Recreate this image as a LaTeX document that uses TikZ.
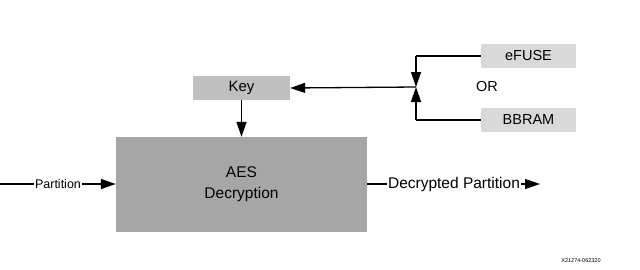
\documentclass[tikz,border=0pt]{standalone}
\usepackage{fontspec}
\setmainfont{Liberation Sans}
\usetikzlibrary{arrows.meta}
\definecolor{aesgray}{HTML}{A6A6A6}
\definecolor{keygray}{HTML}{BFBFBF}
\definecolor{srcgray}{HTML}{D9D9D9}
\begin{document}
\begin{tikzpicture}[x=1pt,y=-1pt,
  box/.style={draw=none,inner sep=0pt,anchor=center},
  wire/.style={line width=1.3pt,draw=black},
  arr/.style={wire,-{Triangle[length=15pt,width=10pt]}},
  lbl/.style={inner sep=1pt,font=\fontsize{12.5}{14}\selectfont}]
\useasboundingbox (0,0) rectangle (640,269);

% blocks
\node[box,fill=aesgray,minimum width=251pt,minimum height=95pt,align=center,
      font=\fontsize{15.5}{21}\selectfont] (aes) at (241.5,184.5) {AES\\Decryption};
\node[box,fill=keygray,minimum width=97pt,minimum height=24pt,
      font=\fontsize{15}{16}\selectfont] (key) at (241.5,88) {Key};
\node[box,fill=srcgray,minimum width=95pt,minimum height=24pt,
      font=\fontsize{14.5}{16}\selectfont] (efuse) at (528.5,56) {eFUSE};
\node[box,fill=srcgray,minimum width=95pt,minimum height=24pt,
      font=\fontsize{14.5}{16}\selectfont] (bbram) at (528.5,120) {BBRAM};
\node[font=\fontsize{14.5}{16}\selectfont] (or) at (487,87) {OR};

% key source selection
\coordinate (j) at (416,87);
\coordinate (jt) at (416,56);
\coordinate (jb) at (416,120);
\draw[wire] (efuse.west) -- (jt);
\draw[arr] (jt) -- (j);
\draw[wire] (bbram.west) -- (jb);
\draw[arr] (jb) -- (j);
\draw[arr] (j) -- (key.east);
\draw[arr] (key.south) -- (aes.north);

% data path
\coordinate (in) at (0,184);
\node[lbl] (part) at (58,184) {Partition};
\draw[wire] (in) -- (part.west);
\draw[arr] (part.east) -- (aes.west |- part.east);

\node[lbl,font=\fontsize{15.5}{18}\selectfont] (dec) at (454,184) {Decrypted Partition};
\coordinate (out) at (540,184);
\draw[wire] (aes.east |- dec.west) -- (dec.west);
\draw[arr] (dec.east) -- (out);

% figure tag
\node[font=\fontsize{5.5}{6}\selectfont,inner sep=0pt] (tag) at (581,261) {X21274-062320};
\end{tikzpicture}
\end{document}
